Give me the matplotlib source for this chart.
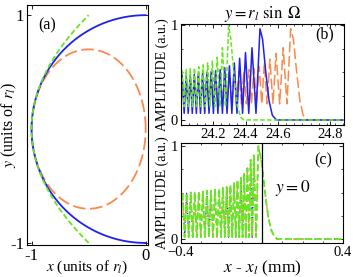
import numpy as np
import matplotlib
matplotlib.use('Agg')
import matplotlib.pyplot as plt
from matplotlib.ticker import AutoMinorLocator, FixedLocator

plt.rcParams['font.family'] = ['Liberation Serif', 'DejaVu Serif']
plt.rcParams['mathtext.fontset'] = 'stix'

BLUE = '#2020f0'
ORANGE = '#fa8a4a'
GREEN = '#66e620'

# ---- panel (a): curve shapes ----
r_l = 1.0              # blue: circle of radius r_l
ell_cx, ell_ax, ell_ay = -0.5, 0.5, 0.7   # orange ellipse
par_top = 1.0          # green parabola x = -1 + y^2/2 spans |y| <= par_top

# ---- panel (b): fringe peaks, trough level and tail ----
b_green_px = [24.010, 24.035, 24.060, 24.086, 24.112, 24.139, 24.167, 24.196, 24.226, 24.258, 24.296]
b_green_py = [0.52, 0.53, 0.54, 0.55, 0.56, 0.58, 0.60, 0.62, 0.66, 0.76, 0.99]
b_green_tr = 0.14
b_green_tail_x = [24.310, 24.330, 24.350, 24.370, 24.390, 25.01]
b_green_tail_y = [0.85, 0.45, 0.15, 0.03, 0.0, 0.0]

b_blue_px = [24.010, 24.035, 24.060, 24.085, 24.110, 24.136, 24.162, 24.189, 24.216, 24.244,
             24.272, 24.301, 24.331, 24.364, 24.400, 24.440, 24.489]
b_blue_py = [0.47, 0.47, 0.48, 0.48, 0.49, 0.49, 0.50, 0.51, 0.52, 0.53,
             0.55, 0.57, 0.60, 0.65, 0.71, 0.76, 0.96]
b_blue_tr = 0.07
b_blue_tail_x = [24.505, 24.525, 24.545, 24.565, 24.590, 25.01]
b_blue_tail_y = [0.85, 0.50, 0.20, 0.05, 0.0, 0.0]

b_orange_px = [24.010, 24.035, 24.060, 24.085, 24.110, 24.136, 24.162, 24.189, 24.216, 24.244,
               24.272, 24.301, 24.330, 24.360, 24.390, 24.421, 24.452, 24.484, 24.516, 24.550,
               24.588, 24.632, 24.678]
b_orange_py = [0.44, 0.44, 0.45, 0.45, 0.46, 0.46, 0.47, 0.47, 0.48, 0.48,
               0.49, 0.50, 0.50, 0.51, 0.52, 0.53, 0.54, 0.56, 0.60, 0.64,
               0.70, 0.76, 0.96]
b_orange_tr = 0.17
b_orange_tail_x = [24.695, 24.715, 24.735, 24.755, 24.780, 25.01]
b_orange_tail_y = [0.85, 0.50, 0.20, 0.05, 0.0, 0.0]

b_tick_pos = [24.2, 24.4, 24.6, 24.92]
b_tick_lab = ['24.2', '24.4', '24.6', '24.8']

# ---- panel (c): y = 0, all three coincide ----
c_px = [-0.392, -0.372, -0.352, -0.332, -0.312, -0.292, -0.272, -0.252, -0.232, -0.212, -0.193,
        -0.174, -0.156, -0.138, -0.121, -0.104, -0.088, -0.072, -0.056, -0.040, -0.018]
c_py = [0.49, 0.49, 0.50, 0.50, 0.51, 0.51, 0.52, 0.52, 0.53, 0.54, 0.55,
        0.56, 0.58, 0.60, 0.63, 0.66, 0.71, 0.76, 0.85, 0.90, 1.0]
c_tr = 0.02
c_tail_x = [0.0, 0.015, 0.030, 0.045, 0.060, 0.075, 0.40]
c_tail_y = [0.80, 0.50, 0.25, 0.10, 0.03, 0.0, 0.0]


def fringe_line(px, py, tr, tail_x, tail_y):
    xs, ys = [], []
    for i in range(len(px)):
        xs.append(px[i]); ys.append(py[i])
        if i < len(px) - 1:
            xs.append((px[i] + px[i + 1]) / 2); ys.append(tr)
    return np.array(xs + tail_x), np.array(ys + tail_y)


def style(ax):
    ax.tick_params(direction='in', top=True, right=True, length=3, width=0.6, labelsize=10.5, pad=2)
    ax.tick_params(which='minor', direction='in', top=True, right=True, length=1.5, width=0.5)
    for s in ax.spines.values():
        s.set_linewidth(0.8)


fig = plt.figure(figsize=(3.53, 2.77), dpi=100)

# panel (a)
axa = fig.add_axes([0.0765, 0.1155, 0.343, 0.866])
th = np.linspace(np.pi / 2, 3 * np.pi / 2, 200)
t = np.linspace(0, 2 * np.pi, 300)
yy = np.linspace(-par_top, par_top, 200)
axa.plot(ell_cx + ell_ax * np.cos(t), ell_ay * np.sin(t), color=ORANGE, lw=1.3, dashes=(7, 2.5))
axa.plot(r_l * np.cos(th), r_l * np.sin(th), color=BLUE, lw=1.3)
axa.plot(-1 + yy ** 2 / 2, yy, color=GREEN, lw=1.3, dashes=(3, 1.5))
axa.set_xlim(-1.04, 0.021)
axa.set_ylim(-1.018, 1.088)
axa.set_xticks([-1, 0])
axa.set_yticks([-1, 1])
axa.set_xticklabels(['-1', '0'])
axa.set_yticklabels(['-1', '1'])
style(axa)
axa.tick_params(labelsize=12)
axa.set_xlabel(r'$x$ (units of $r_l$)', fontsize=11, labelpad=-4)
axa.set_ylabel(r'$y$ (units of $r_l$)', fontsize=11.5, labelpad=-6)
axa.text(0.09, 0.9, '(a)', transform=axa.transAxes, fontsize=11.5)

# panel (b)
axb = fig.add_axes([0.5127, 0.5487, 0.4618, 0.3646])
for px, py, tr, tx, ty, c, d in [
        (b_orange_px, b_orange_py, b_orange_tr, b_orange_tail_x, b_orange_tail_y, ORANGE, (7, 2.5)),
        (b_blue_px, b_blue_py, b_blue_tr, b_blue_tail_x, b_blue_tail_y, BLUE, None),
        (b_green_px, b_green_py, b_green_tr, b_green_tail_x, b_green_tail_y, GREEN, (3, 1.5))]:
    x, y = fringe_line(px, py, tr, tx, ty)
    if d:
        axb.plot(x, y, color=c, lw=1.1, dashes=d)
    else:
        axb.plot(x, y, color=c, lw=1.1)
axb.set_xlim(24.003, 25.006)
axb.set_ylim(-0.053, 1.01)
axb.xaxis.set_major_locator(FixedLocator(b_tick_pos))
axb.set_xticklabels(b_tick_lab)
axb.set_yticks([0, 1])
axb.xaxis.set_minor_locator(AutoMinorLocator(4))
axb.yaxis.set_minor_locator(AutoMinorLocator(4))
style(axb)
axb.set_ylabel('AMPLITUDE (a.u.)', fontsize=10, labelpad=1)
axb.set_title(r'$y = r_l\ \sin\ \Omega$', fontsize=12, pad=2)
axb.text(0.88, 0.9, '(b)', transform=axb.transAxes, fontsize=11.5, ha='center', va='center')

# panel (c)
axc = fig.add_axes([0.5127, 0.1227, 0.459, 0.361])
x, y = fringe_line(c_px, c_py, c_tr, c_tail_x, c_tail_y)
axc.plot(x, y, color=BLUE, lw=1.0, dashes=(1, 6))
axc.plot(x, y, color=ORANGE, lw=1.1, dashes=(1.5, 4))
axc.plot(x, y, color=GREEN, lw=1.3, dashes=(4, 1.5))
axc.axvline(0, color='black', lw=0.9)
axc.set_xlim(-0.4, 0.4)
axc.set_ylim(-0.043, 1.032)
axc.set_xticks([-0.4, 0.4])
axc.set_yticks([0, 1])
axc.xaxis.set_minor_locator(AutoMinorLocator(8))
axc.yaxis.set_minor_locator(AutoMinorLocator(4))
style(axc)
axc.set_ylabel('AMPLITUDE (a.u.)', fontsize=10, labelpad=1)
axc.set_xlabel(r'$x$ - $x_l$ (mm)', fontsize=12.5, labelpad=0)
axc.text(0.88, 0.83, '(c)', transform=axc.transAxes, fontsize=11.5, ha='center', va='center')
axc.text(0.58, 0.55, r'$y = 0$', transform=axc.transAxes, fontsize=12.5, va='center')

fig.savefig('out.png', dpi=100)
